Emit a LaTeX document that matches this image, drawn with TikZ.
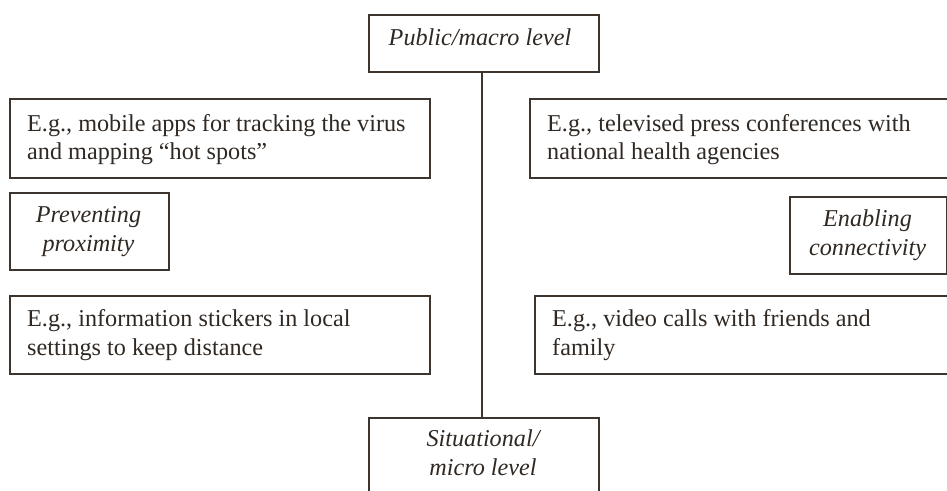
\documentclass[tikz,border=0pt]{standalone}
\usepackage{fontspec}
\setmainfont{Liberation Serif}
\definecolor{lc}{RGB}{62,52,46}
\definecolor{tc}{RGB}{48,40,34}
\tikzset{
  box/.style={draw=lc, line width=1.7pt, anchor=north west, inner sep=0pt},
  extext/.style={font=\fontsize{24.2}{28.3}\selectfont, text=tc, align=left, anchor=base west, inner sep=0pt},
  ittext/.style={font=\fontsize{24.2}{28.8}\selectfont\itshape, text=tc, align=center, anchor=base, inner sep=0pt},
  conn/.style={draw=lc, line width=1.7pt}
}
\begin{document}
\begin{tikzpicture}[x=1pt,y=-1pt]
\useasboundingbox (0,0) rectangle (947,490);
\clip (0,0) rectangle (947,490);
% boxes
\node[box, minimum width=230pt, minimum height=57pt] (b0) at (368,14) {};
\node[box, minimum width=420pt, minimum height=79pt] (b1) at (9,98) {};
\node[box, minimum width=440pt, minimum height=79pt] (b2) at (529,98) {};
\node[box, minimum width=159pt, minimum height=77pt] (b3) at (9,192) {};
\node[box, minimum width=157pt, minimum height=77pt] (b4) at (789,196) {};
\node[box, minimum width=420pt, minimum height=78pt] (b5) at (9,295) {};
\node[box, minimum width=440pt, minimum height=78pt] (b6) at (534,295) {};
\node[box, minimum width=230pt, minimum height=100pt] (b7) at (368,417) {};
% texts (base anchor = baseline of the last line)
\node[ittext] (t0) at (480,45) {Public/macro level};
\node[extext] (t1) at (27,159.5) {E.g., mobile apps for tracking the virus\\and mapping ``hot spots''};
\node[extext] (t2) at (547,159.5) {E.g., televised press conferences with\\national health agencies};
\node[ittext] (t3) at (88.5,251) {Preventing\\proximity};
\node[ittext] (t4) at (867.5,255) {Enabling\\connectivity};
\node[extext] (t5) at (27,355) {E.g., information stickers in local\\settings to keep distance};
\node[extext] (t6) at (552,355) {E.g., video calls with friends and\\family};
\node[ittext] (t7) at (483,475) {Situational/\\micro level};
% connector
\draw[conn] ([xshift=-2pt]b0.south) -- ([xshift=-2pt]b7.north);
\end{tikzpicture}
\end{document}
